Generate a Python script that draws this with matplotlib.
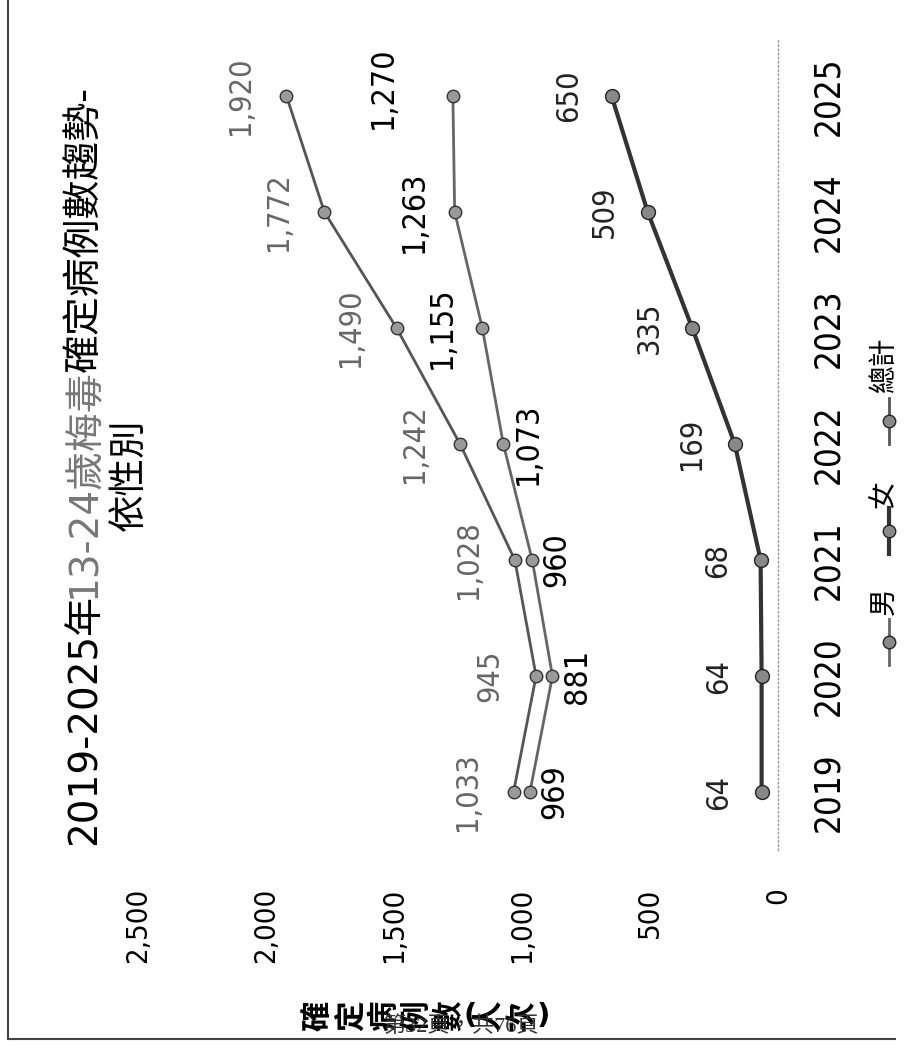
import matplotlib
matplotlib.use("Agg")
import matplotlib.pyplot as plt
from matplotlib.lines import Line2D

years = ["2019", "2020", "2021", "2022", "2023", "2024", "2025"]
total = [1033, 945, 1028, 1242, 1490, 1772, 1920]
male = [969, 881, 960, 1073, 1155, 1263, 1270]
female = [64, 64, 68, 169, 335, 509, 650]
value_ticks = [0, 500, 1000, 1500, 2000, 2500]
legend_names = ["男", "女", "總計"]

W, H = 912, 1060
CJK = ["DejaVu Sans", "Noto Sans CJK TC"]
NUM = dict(family="DejaVu Sans", stretch="condensed")


def fx(px):
    return px / W


def fy(py):
    return 1 - py / H


fig = plt.figure(figsize=(W / 100, H / 100), dpi=100)
fig.patch.set_facecolor("white")

# plot area (chart is shown rotated 90 deg ccw: values run right->left, years bottom->top)
ax = fig.add_axes([fx(138), fy(850), fx(778) - fx(138), (850 - 38) / H])
pos = list(range(len(years)))

ax.plot(total, pos, color="#555555", lw=2, marker="o", ms=9, mfc="#999999", mec="#333333", zorder=3)
ax.plot(male, pos, color="#666666", lw=2, marker="o", ms=9, mfc="#999999", mec="#333333", zorder=3)
ax.plot(female, pos, color="#333333", lw=3, marker="o", ms=10, mfc="#888888", mec="#222222", zorder=3)

ax.set_xlim(2500, 0)
ax.set_ylim(-0.5, len(years) - 0.5)

for s in ["top", "left", "bottom"]:
    ax.spines[s].set_visible(False)
ax.spines["right"].set_linestyle((0, (1, 2)))
ax.spines["right"].set_color("#999999")
ax.spines["right"].set_linewidth(1)

ax.set_xticks(value_ticks)
ax.set_xticklabels([f"{v:,}" for v in value_ticks], rotation=90, va="top", ha="center",
                   fontsize=21, **NUM)
ax.tick_params(axis="x", length=0, pad=27)

ax.yaxis.tick_right()
ax.set_yticks(pos)
ax.set_yticklabels(years, rotation=90, va="center", ha="left", fontsize=25, **NUM)
ax.tick_params(axis="y", length=0, pad=24)

# data labels ("above" = left in rotated view)
for i in pos:
    ax.annotate(f"{total[i]:,}", (total[i], i), xytext=(-33, 0), textcoords="offset points",
                rotation=90, ha="center", va="center", fontsize=22, color="#666666", **NUM)
    if i < 4:
        off = 18
    elif i < 6:
        off = -29
    else:
        off = -50
    ax.annotate(f"{male[i]:,}", (male[i], i), xytext=(off, 6 if i == 6 else 0),
                textcoords="offset points",
                rotation=90, ha="center", va="center", fontsize=23, color="black", **NUM)
    ax.annotate(f"{female[i]:,}", (female[i], i), xytext=(-31, 0), textcoords="offset points",
                rotation=90, ha="center", va="center", fontsize=22, color="#222222", **NUM)

# title, drawn in pieces because the middle part is lighter
fig.canvas.draw()
renderer = fig.canvas.get_renderer()
pieces = [("2019-2025年", "black"), ("13-24歲梅毒", "#777777"), ("確定病例數趨勢-", "black")]
ybot = 845
for txt, col in pieces:
    t = fig.text(fx(84), fy(ybot), txt, rotation=90, ha="center", va="bottom",
                 fontsize=28, color=col, family=CJK)
    bb = t.get_window_extent(renderer)
    ybot -= bb.height - 4
fig.text(fx(130), fy(475), "依性別", rotation=90, ha="center", va="center", fontsize=27, family=CJK)

# axis title, stacked characters (brackets stay upright)
ylab = "確定病例數(人次)"
xc = 318
for k, ch in enumerate(ylab):
    is_br = ch in "()"
    nxt_br = k + 1 < len(ylab) and ylab[k + 1] in "()"
    fig.text(fx(xc), fy(1016), ch, rotation=0 if is_br else 90, ha="center", va="center",
             fontsize=21 if is_br else 22, weight="bold", family=CJK)
    xc += 20 if (is_br or nxt_br) else 33

# legend
leg_y = [(601, 642), (494, 531), (365, 421)]
leg_style = [("#666666", 2), ("#333333", 3), ("#555555", 2)]
for name, (ty, my), (col, lw) in zip(legend_names, leg_y, leg_style):
    fig.add_artist(Line2D([fx(889), fx(889)], [fy(my + 23), fy(my - 23)], color=col, lw=lw))
    fig.add_artist(Line2D([fx(889)], [fy(my)], color=col, marker="o", ms=9,
                          mfc="#888888", mec="#222222", lw=0))
    fig.text(fx(884), fy(ty), name, rotation=90, ha="center", va="center", fontsize=20, family=CJK)

# page footer, printed over the axis title
fig.text(fx(461), fy(1027), "第32頁，共76頁", ha="center", va="center", fontsize=16,
         color="#333333", family=["Liberation Serif", "Noto Sans CJK TC"], zorder=5)

# page frame
fig.add_artist(Line2D([fx(8), fx(8)], [1, fy(1039)], color="#444444", lw=1.5))
fig.add_artist(Line2D([fx(8), fx(895)], [fy(1039), fy(1039)], color="#444444", lw=1.5))

fig.savefig("out.png", dpi=100, facecolor="white")
